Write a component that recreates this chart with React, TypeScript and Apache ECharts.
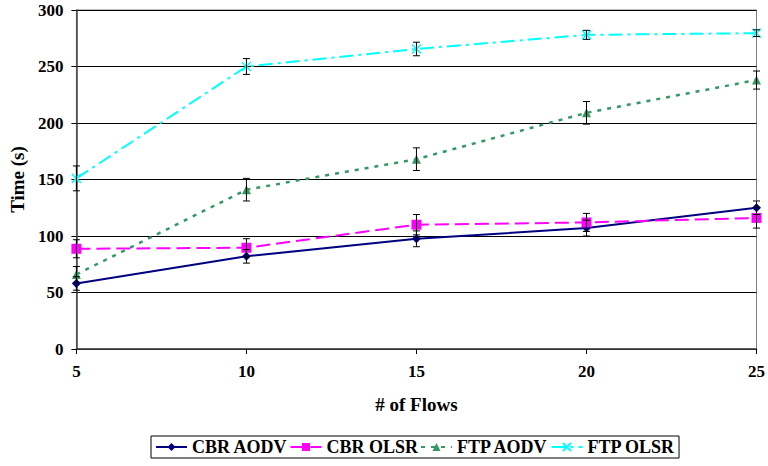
import React, { useEffect, useRef } from "react";
import * as echarts from "echarts";

const flows = [5, 10, 15, 20, 25];
const cbrAodv = [58, 82, 97.5, 107, 125];
const cbrAodvErr = [6, 6, 7, 7, 6];
const cbrOlsr = [88.7, 89.6, 110, 112, 116];
const cbrOlsrErr = [8, 8, 9, 8, 9];
const ftpAodv = [66, 141, 168, 209, 238];
const ftpAodvErr = [7, 10, 10, 10, 8];
const ftpOlsr = [151, 250, 265.5, 278, 279.5];
const ftpOlsrErr = [11, 7, 6, 4, 3];
const seriesNames = ["CBR AODV", "CBR OLSR", "FTP AODV", "FTP OLSR"];

const FONT = "'Liberation Serif', 'Times New Roman', serif";

function errData(vals: number[], errs: number[]) {
  return flows.map((x, i) => [x, vals[i] - errs[i], vals[i] + errs[i]]);
}

const renderErr = (params: any, api: any) => {
  const x = api.value(0);
  const lo = api.coord([x, api.value(1)]);
  const hi = api.coord([x, api.value(2)]);
  const w = 3.5;
  const st = { stroke: "#000", lineWidth: 1 };
  return {
    type: "group",
    children: [
      { type: "line", shape: { x1: lo[0], y1: lo[1], x2: hi[0], y2: hi[1] }, style: st },
      { type: "line", shape: { x1: lo[0] - w, y1: lo[1], x2: lo[0] + w, y2: lo[1] }, style: st },
      { type: "line", shape: { x1: hi[0] - w, y1: hi[1], x2: hi[0] + w, y2: hi[1] }, style: st },
    ],
  };
};

export default function App() {
  const ref = useRef<HTMLDivElement>(null);
  useEffect(() => {
    const chart = echarts.init(ref.current!, null, { renderer: "svg" });
    const pts = (v: number[]) => flows.map((x, i) => [x, v[i]]);
    const errSeries = (v: number[], e: number[]) => ({
      type: "custom",
      renderItem: renderErr,
      data: errData(v, e),
      encode: { x: 0, y: [1, 2] },
      z: 5,
      silent: true,
    });
    chart.setOption({
      animation: false,
      backgroundColor: "#fff",
      textStyle: { fontFamily: FONT },
      grid: {
        left: 72,
        right: 10,
        top: 10,
        bottom: 117,
        show: true,
        borderColor: "#808080",
        borderWidth: 1,
      },
      xAxis: {
        type: "value",
        min: 5,
        max: 25,
        interval: 5,
        name: "# of Flows",
        nameLocation: "middle",
        nameGap: 46,
        nameTextStyle: { fontFamily: FONT, fontWeight: "bold", fontSize: 19, color: "#000" },
        axisLine: { lineStyle: { color: "#404040", width: 1.5 } },
        axisTick: { show: true, length: 5, lineStyle: { color: "#000" } },
        axisLabel: { fontFamily: FONT, fontWeight: "bold", fontSize: 17, color: "#000", margin: 14 },
        splitLine: { show: false },
      },
      yAxis: {
        type: "value",
        min: 0,
        max: 300,
        interval: 50,
        name: "Time (s)",
        nameLocation: "middle",
        nameGap: 46,
        nameTextStyle: { fontFamily: FONT, fontWeight: "bold", fontSize: 19, color: "#000" },
        axisLine: { show: true, lineStyle: { color: "#404040", width: 1.5 } },
        axisTick: { show: true, length: 5, lineStyle: { color: "#000" } },
        axisLabel: { fontFamily: FONT, fontWeight: "bold", fontSize: 17, color: "#000", margin: 13 },
        splitLine: { show: true, lineStyle: { color: "#000", width: 1 } },
      },
      legend: {
        bottom: 8,
        left: 151,
        data: seriesNames,
        borderColor: "#000",
        borderWidth: 1,
        padding: [2, 4, 2, 4],
        itemGap: 2,
        itemWidth: 31,
        itemHeight: 10,
        textStyle: { fontFamily: FONT, fontWeight: "bold", fontSize: 18, color: "#000" },
      },
      series: [
        {
          name: "CBR AODV",
          type: "line",
          data: pts(cbrAodv),
          symbol: "diamond",
          symbolSize: 9,
          color: "#000080",
          lineStyle: { color: "#000080", width: 2, type: "solid" },
          itemStyle: { color: "#000080" },
          z: 3,
        },
        {
          name: "CBR OLSR",
          type: "line",
          data: pts(cbrOlsr),
          symbol: "rect",
          symbolSize: 10,
          color: "#FF00FF",
          lineStyle: { color: "#FF00FF", width: 2, type: [14, 6] },
          itemStyle: { color: "#FF00FF" },
          z: 3,
        },
        {
          name: "FTP AODV",
          type: "line",
          data: pts(ftpAodv),
          symbol: "triangle",
          symbolSize: 9,
          color: "#339966",
          lineStyle: { color: "#339966", width: 2.5, type: [4, 6] },
          itemStyle: { color: "#339966" },
          z: 3,
        },
        {
          name: "FTP OLSR",
          type: "line",
          data: pts(ftpOlsr),
          symbol: "path://M0,0L10,10M10,0L0,10",
          symbolSize: 9,
          color: "#00FFFF",
          lineStyle: { color: "#00FFFF", width: 2, type: [14, 5, 3, 5] },
          itemStyle: { color: "#00FFFF", borderColor: "#00FFFF", borderWidth: 1.5 },
          z: 3,
        },
        errSeries(cbrAodv, cbrAodvErr),
        errSeries(cbrOlsr, cbrOlsrErr),
        errSeries(ftpAodv, ftpAodvErr),
        errSeries(ftpOlsr, ftpOlsrErr),
      ],
    });
    return () => chart.dispose();
  }, []);
  return (
    <div
      ref={ref}
      style={{ position: "absolute", left: 0, top: 0, width: 768, height: 466 }}
    />
  );
}
